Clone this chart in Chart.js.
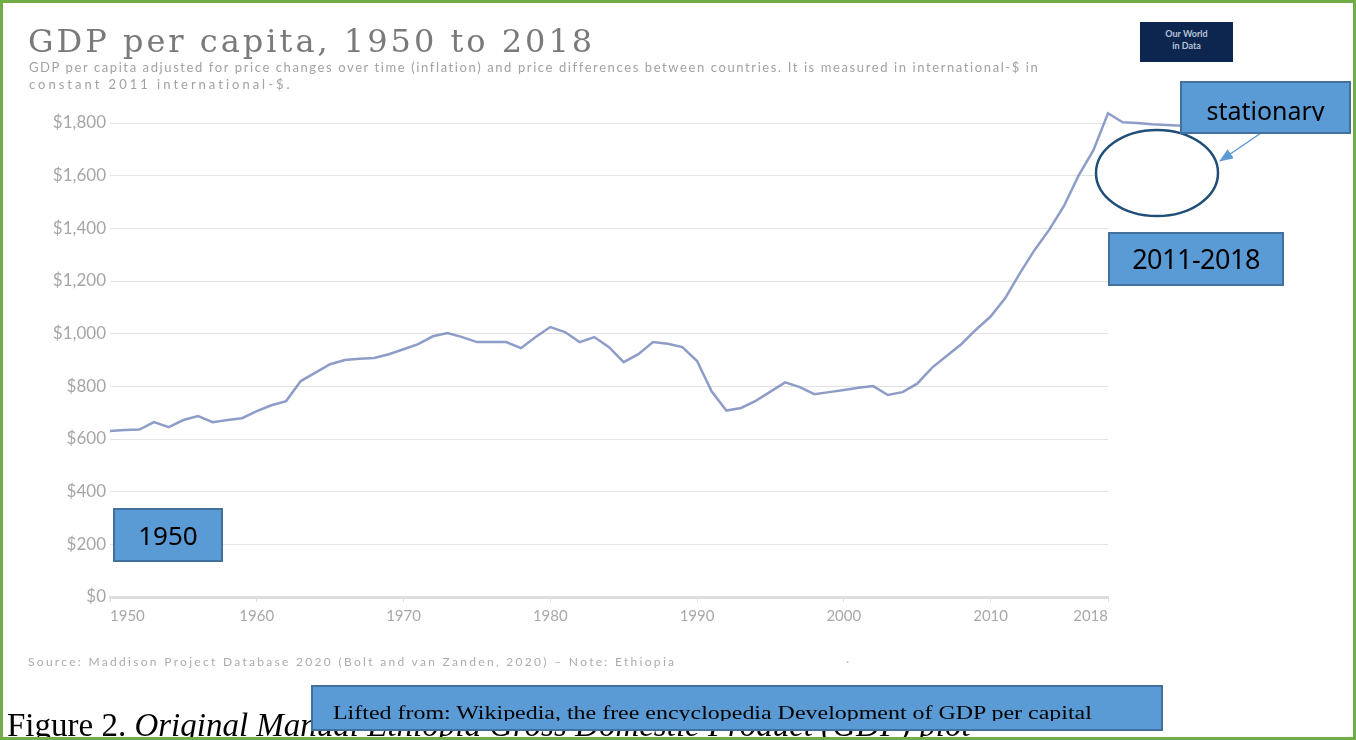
<!DOCTYPE html>
<html>
<head>
<meta charset="utf-8">
<script src="https://cdn.jsdelivr.net/npm/chart.js@4.4.1/dist/chart.umd.min.js"></script>
<style>
  html, body { margin: 0; padding: 0; background: #fff; }
  #page {
    position: relative; width: 1356px; height: 740px; overflow: hidden;
    box-sizing: border-box; border: 3px solid #70ad47; background: #fff;
  }
  #chart { position: absolute; left: -3px; top: -3px; }
  .abs { position: absolute; white-space: nowrap; }
  #title { left: 25px; top: 19px; font: 32px "DejaVu Serif", serif; color: #7a7a7a; letter-spacing: 3px; }
  .sub { left: 26px; font: 13px Lato, sans-serif; color: #a2a2a2; letter-spacing: 1.6px; }
  #logo {
    left: 1137px; top: 19px; width: 93px; height: 40px; background: #0d2650;
    color: #b8c3d6; font: bold 9px Lato, sans-serif; text-align: center; line-height: 12px;
    padding-top: 6px; box-sizing: border-box;
  }
  #source { left: 25px; top: 651px; font: 12px Lato, sans-serif; color: #acacac; letter-spacing: 2.3px; }
  .box {
    position: absolute; background: #5b9bd5; border: 2px solid #41719c; box-sizing: border-box;
  }
  .clip { position: absolute; left: 0; right: 0; top: 0; overflow: hidden; }
  .lbl { position: absolute; left: 0; right: 0; text-align: center; color: #000; white-space: nowrap; }
  #figure { left: 4px; top: 704px; font: 33px "Liberation Serif", serif; color: #000; }
  svg { position: absolute; left: -3px; top: -3px; }
</style>
</head>
<body>
<div id="page">
  <canvas id="chart" width="1356" height="740"></canvas>

  <div id="title" class="abs">GDP per capita, 1950 to 2018</div>
  <div class="abs sub" style="top:56px">GDP per capita adjusted for price changes over time (inflation) and price differences between countries. It is measured in international-$ in</div>
  <div class="abs sub" style="top:73px; letter-spacing:3px">constant 2011 international-$.</div>
  <div id="logo" class="abs">Our World<br>in Data</div>
  <div id="source" class="abs">Source: Maddison Project Database 2020 (Bolt and van Zanden, 2020) – Note: Ethiopia</div>
  <div class="abs" style="left:843px; top:651px; font:12px Lato, sans-serif; color:#b8b8b8;">·</div>

  <div id="figure" class="abs">Figure 2. <i>Original Manual Ethiopia Gross Domestic Product (GDP) plot</i></div>

  <svg width="1356" height="740">
    <defs>
      <marker id="head" markerWidth="14" markerHeight="11" refX="13" refY="5.5" orient="auto" markerUnits="userSpaceOnUse">
        <path d="M0,0 L14,5.5 L0,11 z" fill="#5b9bd5"></path>
      </marker>
    </defs>
    <ellipse cx="1157" cy="173" rx="61" ry="43" fill="#fff" stroke="#1f4e79" stroke-width="2.5"></ellipse>
    <line x1="1261" y1="133" x2="1220" y2="161" stroke="#5b9bd5" stroke-width="1.5" marker-end="url(#head)"></line>
  </svg>

  <div class="box" style="left:1177px; top:78px; width:171px; height:53px;">
    <div class="clip" style="height:38px">
      <div class="lbl" style="top:12px; font:25px 'Noto Sans', sans-serif; line-height:30px;">stationary</div>
    </div>
  </div>
  <div class="box" style="left:1105px; top:229px; width:176px; height:54px;">
    <div class="lbl" style="top:9px; font:27px 'Noto Sans', sans-serif; line-height:32px; letter-spacing:-0.5px;">2011-2018</div>
  </div>
  <div class="box" style="left:110px; top:505px; width:110px; height:54px;">
    <div class="lbl" style="top:9px; font:26px 'Noto Sans', sans-serif; line-height:32px;">1950</div>
  </div>
  <div class="box" style="left:308px; top:682px; width:852px; height:46px;">
    <div class="clip" style="height:34px">
      <div class="lbl" style="left:20px; text-align:left; top:14px; font:19px 'Liberation Serif', serif; line-height:24px; transform:scaleX(1.26); transform-origin:left;">Lifted from: Wikipedia, the free encyclopedia Development of GDP per capital</div>
    </div>
  </div>
</div>

<script>
// ===== DATA =====
const years = [
  1950, 1951, 1952, 1953, 1954, 1955, 1956, 1957, 1958, 1959,
  1960, 1961, 1962, 1963, 1964, 1965, 1966, 1967, 1968, 1969,
  1970, 1971, 1972, 1973, 1974, 1975, 1976, 1977, 1978, 1979,
  1980, 1981, 1982, 1983, 1984, 1985, 1986, 1987, 1988, 1989,
  1990, 1991, 1992, 1993, 1994, 1995, 1996, 1997, 1998, 1999,
  2000, 2001, 2002, 2003, 2004, 2005, 2006, 2007, 2008, 2009,
  2010, 2011, 2012, 2013, 2014, 2015, 2016, 2017, 2018, 2019,
  2020, 2021, 2022, 2023
];
const gdpPerCapita = [
  630, 634, 636, 664, 645, 672, 687, 664, 672, 679,
  706, 728, 744, 820, 852, 884, 900, 905, 908, 922,
  941, 960, 990, 1002, 987, 968, 968, 968, 945, 987,
  1025, 1006, 968, 987, 949, 892, 922, 968, 962, 949,
  896, 780, 708, 718, 745, 780, 815, 797, 770, 778,
  786, 795, 801, 767, 778, 810, 870, 915, 960, 1015,
  1065, 1135, 1230, 1318, 1395, 1485, 1601, 1696, 1837, 1803,
  1800, 1795, 1792, 1790
];
const xTickYears = [1950, 1960, 1970, 1980, 1990, 2000, 2010, 2018];
const yTicks = [0, 200, 400, 600, 800, 1000, 1200, 1400, 1600, 1800];

// ===== CHART =====
function formatDollar(v) {
  return "$" + v.toLocaleString("en-US");
}

function initGdpChart() {
  const ctx = document.getElementById("chart").getContext("2d");
  new Chart(ctx, {
    type: "line",
    data: {
      datasets: [
        {
          label: "Ethiopia",
          data: years.map((y, i) => ({ x: y, y: gdpPerCapita[i] })),
          borderColor: "rgba(112, 132, 186, 0.8)",
          borderWidth: 2.5,
          pointRadius: 0,
          tension: 0,
          clip: false,
        },
      ],
    },
    options: {
      responsive: false,
      animation: false,
      layout: { padding: { top: 123, right: 248, left: 0, bottom: 0 } },
      plugins: { legend: { display: false }, tooltip: { enabled: false } },
      scales: {
        x: {
          type: "linear",
          bounds: "data",
          // axis stops at 2018, the flat tail is drawn past it (clip: false)
          afterDataLimits: (scale) => {
            scale.min = 1950;
            scale.max = 2018;
          },
          afterBuildTicks: (scale) => {
            scale.ticks = xTickYears.map((v) => ({ value: v }));
          },
          afterFit: (scale) => {
            scale.height = 143;
          },
          grid: { drawOnChartArea: false, color: "#dcdcdc", tickLength: 5 },
          border: { color: "#dddddd", width: 3 },
          ticks: {
            align: "inner",
            color: "#a8a8a8",
            font: { family: "Lato", size: 15 },
            padding: 5,
            maxRotation: 0,
            callback: (v) => String(v),
          },
        },
        y: {
          min: 0,
          max: 1800,
          afterBuildTicks: (scale) => {
            scale.ticks = yTicks.map((v) => ({ value: v }));
          },
          afterFit: (scale) => {
            scale.width = 110;
          },
          grid: { color: "#e3e3e3", borderDash: [4, 3], drawTicks: false },
          border: { display: false },
          ticks: {
            color: "#a6a6a6",
            font: { family: "Lato", size: 17 },
            padding: 4,
            callback: (v) => formatDollar(v),
          },
        },
      },
    },
  });
}

document.addEventListener("DOMContentLoaded", function () {
  initGdpChart();
});
</script>
</body>
</html>
